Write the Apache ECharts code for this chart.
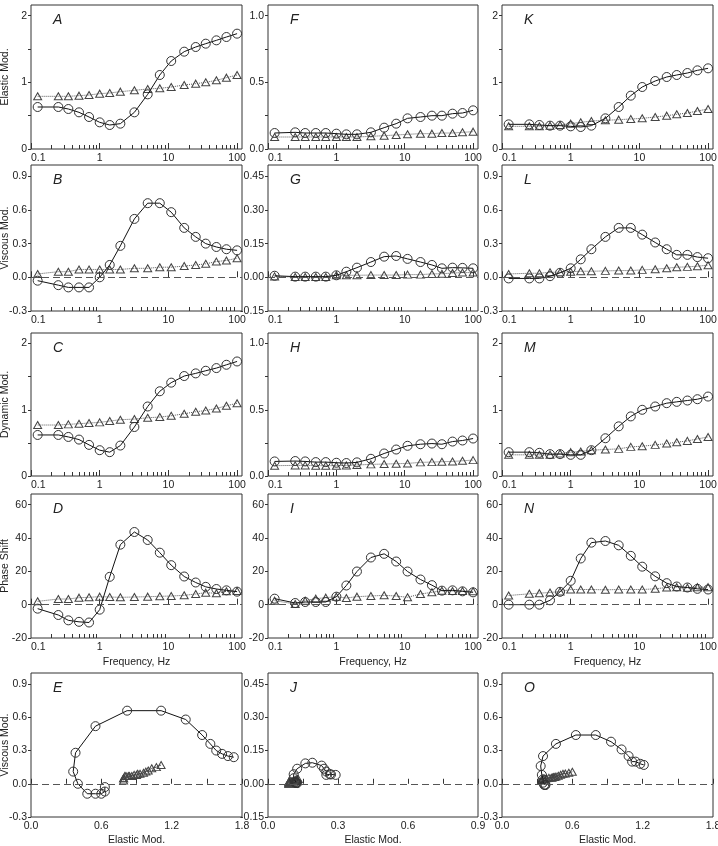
<!DOCTYPE html>
<html><head><meta charset="utf-8">
<script src="https://cdn.jsdelivr.net/npm/echarts@6/dist/echarts.min.js"></script>
<style>html,body{margin:0;padding:0;background:#fff}#c{width:718px;height:846px}</style>
</head><body><div id="c"></div><script>
// ---------- data ----------
const freq = [0.125, 0.25, 0.35, 0.5, 0.7, 1, 1.4, 2, 3.2, 5, 7.5, 11, 17, 25, 35, 50, 70, 100];

const elasticA_circ = [0.63, 0.63, 0.60, 0.55, 0.48, 0.40, 0.36, 0.38, 0.55, 0.82, 1.11, 1.32, 1.46, 1.53, 1.58, 1.63, 1.68, 1.73];
const elasticA_tri  = [0.79, 0.79, 0.79, 0.80, 0.81, 0.83, 0.84, 0.86, 0.88, 0.90, 0.91, 0.93, 0.96, 0.98, 1.00, 1.03, 1.07, 1.11];
const viscousB_circ = [-0.03, -0.07, -0.09, -0.09, -0.09, 0.00, 0.11, 0.28, 0.52, 0.66, 0.66, 0.58, 0.44, 0.36, 0.30, 0.27, 0.25, 0.24];
const viscousB_tri  = [0.03, 0.05, 0.05, 0.07, 0.07, 0.07, 0.07, 0.07, 0.08, 0.08, 0.09, 0.09, 0.10, 0.11, 0.12, 0.14, 0.15, 0.17];
const dynamicC_circ = [0.62, 0.62, 0.59, 0.55, 0.47, 0.39, 0.36, 0.46, 0.74, 1.05, 1.28, 1.41, 1.51, 1.55, 1.59, 1.63, 1.68, 1.73];
const dynamicC_tri  = [0.77, 0.77, 0.78, 0.79, 0.80, 0.81, 0.83, 0.85, 0.86, 0.88, 0.89, 0.91, 0.94, 0.97, 0.99, 1.02, 1.06, 1.10];
const phaseD_circ   = [-2.4, -6.2, -9.4, -10.3, -10.7, -3.0, 16.7, 36.0, 43.6, 38.8, 31.2, 23.7, 16.9, 13.3, 10.7, 9.4, 8.6, 7.8];
const phaseD_tri    = [2.0, 3.4, 3.4, 4.2, 4.4, 4.8, 4.6, 4.4, 4.6, 4.8, 5.0, 5.2, 5.6, 6.4, 7.2, 6.8, 8.0, 8.2];

const elasticF_circ = [0.12, 0.125, 0.12, 0.12, 0.12, 0.115, 0.11, 0.11, 0.125, 0.16, 0.19, 0.23, 0.24, 0.25, 0.25, 0.265, 0.27, 0.29];
const elasticF_tri  = [0.09, 0.09, 0.09, 0.09, 0.09, 0.09, 0.09, 0.09, 0.095, 0.10, 0.105, 0.11, 0.115, 0.115, 0.12, 0.12, 0.125, 0.13];
const viscousG_circ = [0.007, 0.003, 0.003, 0.003, 0.003, 0.009, 0.025, 0.043, 0.068, 0.092, 0.095, 0.082, 0.068, 0.055, 0.040, 0.043, 0.042, 0.040];
const viscousG_tri  = [0.004, 0.001, 0.001, 0.001, 0.001, 0.009, 0.009, 0.009, 0.010, 0.010, 0.010, 0.012, 0.012, 0.015, 0.016, 0.019, 0.021, 0.021];
const dynamicH_circ = [0.11, 0.113, 0.11, 0.105, 0.105, 0.10, 0.098, 0.103, 0.13, 0.17, 0.20, 0.228, 0.24, 0.245, 0.24, 0.26, 0.268, 0.283];
const dynamicH_tri  = [0.078, 0.08, 0.08, 0.078, 0.078, 0.078, 0.08, 0.083, 0.088, 0.09, 0.093, 0.095, 0.103, 0.105, 0.108, 0.11, 0.115, 0.12];
const phaseI_circ   = [3.6, 1.0, 1.6, 1.6, 1.6, 4.8, 11.5, 19.9, 28.3, 30.5, 25.9, 19.9, 15.1, 11.7, 8.4, 8.6, 8.0, 7.4];
const phaseI_tri    = [2.4, 0.4, 2.4, 3.6, 4.2, 4.8, 4.0, 4.8, 5.2, 5.6, 5.2, 4.4, 6.4, 7.4, 8.4, 8.2, 8.2, 8.0];

const elasticK_circ = [0.37, 0.37, 0.36, 0.35, 0.35, 0.34, 0.33, 0.35, 0.46, 0.63, 0.80, 0.93, 1.02, 1.08, 1.11, 1.14, 1.18, 1.21];
const elasticK_tri  = [0.34, 0.34, 0.34, 0.35, 0.36, 0.38, 0.40, 0.42, 0.43, 0.44, 0.45, 0.46, 0.48, 0.50, 0.52, 0.54, 0.57, 0.60];
const viscousL_circ = [-0.01, -0.01, -0.01, 0.01, 0.04, 0.08, 0.16, 0.25, 0.36, 0.44, 0.44, 0.38, 0.31, 0.25, 0.20, 0.20, 0.18, 0.17];
const viscousL_tri  = [0.03, 0.036, 0.036, 0.045, 0.045, 0.05, 0.054, 0.054, 0.057, 0.06, 0.06, 0.066, 0.072, 0.081, 0.09, 0.093, 0.099, 0.108];
const dynamicM_circ = [0.36, 0.36, 0.35, 0.33, 0.33, 0.32, 0.32, 0.39, 0.57, 0.75, 0.90, 1.00, 1.05, 1.10, 1.12, 1.14, 1.16, 1.20];
const dynamicM_tri  = [0.32, 0.32, 0.32, 0.32, 0.34, 0.36, 0.37, 0.39, 0.40, 0.41, 0.44, 0.45, 0.47, 0.49, 0.51, 0.53, 0.56, 0.59];
const phaseN_circ   = [0, 0, 0, 2.6, 7.7, 14.3, 27.7, 37.2, 38.2, 35.6, 29.3, 22.8, 17.0, 12.9, 10.9, 10.3, 9.5, 9.1];
const phaseN_tri    = [5.5, 6.5, 6.9, 7.3, 7.9, 9.1, 9.1, 9.1, 8.9, 9.1, 9.1, 9.1, 9.5, 10.3, 10.5, 10.1, 10.5, 10.5];

// tick values
const logMajorTicks = [0.1, 1, 10, 100];
const logMinorTicks = [0.2,0.3,0.4,0.5,0.6,0.7,0.8,0.9, 2,3,4,5,6,7,8,9, 20,30,40,50,60,70,80,90];
const modTicks2 = [0, 0.5, 1, 1.5, 2], modLabels2 = [0, 1, 2];
const modTicks1 = [0, 0.25, 0.5, 0.75, 1], modLabels1 = [0, 0.5, 1];
const viscTicks = [-0.3, 0, 0.3, 0.6, 0.9];
const viscTicksSmall = [-0.15, 0, 0.15, 0.3, 0.45];
const phaseTicks = [-20, 0, 20, 40, 60];
const elasticTicksBig = [0, 0.3, 0.6, 0.9, 1.2, 1.5, 1.8], elasticLabelsBig = [0, 0.6, 1.2, 1.8];
const elasticTicksSmall = [0, 0.15, 0.3, 0.45, 0.6, 0.75, 0.9], elasticLabelsSmall = [0, 0.3, 0.6, 0.9];

// ---------- layout / style ----------
const FONT = '"Liberation Sans", Arial, Helvetica, sans-serif';
const TXT = '#222';
const cols = [{left:31,width:211},{left:268,width:210},{left:502,width:211}];
const rows = [{top:5,height:144},{top:165,height:146},{top:333,height:143},{top:494,height:144},{top:673,height:144}];

const f1 = v => v.toFixed(1), f2 = v => v.toFixed(2), f0 = v => String(Math.round(v));
const yMod2 = {min:0, max:2.16, ticks:modTicks2, labels:modLabels2, fmt:f0};
const yMod1 = {min:0, max:1.08, ticks:modTicks1, labels:modLabels1, fmt:f1};
const yVisc = {min:-0.3, max:1.0, ticks:viscTicks, labels:viscTicks, fmt:f1};
const yViscS = {min:-0.15, max:0.5, ticks:viscTicksSmall, labels:viscTicksSmall, fmt:f2};
const yPhase = {min:-20, max:66.4, ticks:phaseTicks, labels:phaseTicks, fmt:f0};
const xElB = {min:0, max:1.8, ticks:elasticTicksBig, labels:elasticLabelsBig, fmt:f1};
const xElS = {min:0, max:0.9, ticks:elasticTicksSmall, labels:elasticLabelsSmall, fmt:f1};

const panels = [
  {c:0,r:0,letter:'A',y:yMod2,circ:elasticA_circ,tri:elasticA_tri,yName:'Elastic Mod.'},
  {c:0,r:1,letter:'B',y:yVisc,circ:viscousB_circ,tri:viscousB_tri,zero:true,yName:'Viscous Mod.'},
  {c:0,r:2,letter:'C',y:yMod2,circ:dynamicC_circ,tri:dynamicC_tri,yName:'Dynamic Mod.'},
  {c:0,r:3,letter:'D',y:yPhase,circ:phaseD_circ,tri:phaseD_tri,zero:true,yName:'Phase Shift',xName:'Frequency, Hz'},
  {c:0,r:4,letter:'E',loop:true,x:xElB,y:yVisc,cx:elasticA_circ,cy:viscousB_circ,tx:elasticA_tri,ty:viscousB_tri,zero:true,yName:'Viscous Mod.',xName:'Elastic Mod.'},
  {c:1,r:0,letter:'F',y:yMod1,circ:elasticF_circ,tri:elasticF_tri},
  {c:1,r:1,letter:'G',y:yViscS,circ:viscousG_circ,tri:viscousG_tri,zero:true},
  {c:1,r:2,letter:'H',y:yMod1,circ:dynamicH_circ,tri:dynamicH_tri},
  {c:1,r:3,letter:'I',y:yPhase,circ:phaseI_circ,tri:phaseI_tri,zero:true,xName:'Frequency, Hz'},
  {c:1,r:4,letter:'J',loop:true,x:xElS,y:yViscS,cx:elasticF_circ,cy:viscousG_circ,tx:elasticF_tri,ty:viscousG_tri,zero:true,xName:'Elastic Mod.'},
  {c:2,r:0,letter:'K',y:yMod2,circ:elasticK_circ,tri:elasticK_tri},
  {c:2,r:1,letter:'L',y:yVisc,circ:viscousL_circ,tri:viscousL_tri,zero:true},
  {c:2,r:2,letter:'M',y:yMod2,circ:dynamicM_circ,tri:dynamicM_tri},
  {c:2,r:3,letter:'N',y:yPhase,circ:phaseN_circ,tri:phaseN_tri,zero:true,xName:'Frequency, Hz'},
  {c:2,r:4,letter:'O',loop:true,x:xElB,y:yVisc,cx:elasticK_circ,cy:viscousL_circ,tx:elasticK_tri,ty:viscousL_tri,zero:true,xName:'Elastic Mod.'}
];

const grid = [], xAxis = [], yAxis = [], series = [], graphic = [];
const labelStyle = {fontSize:10.5, color:TXT, fontFamily:FONT};
const nameStyle = {fontSize:10.5, color:TXT, fontFamily:FONT};

panels.forEach((p, gi) => {
  const col = cols[p.c], row = rows[p.r];
  grid.push({left:col.left, top:row.top, width:col.width, height:row.height, show:true,
    borderColor:'#333', borderWidth:1, backgroundColor:'transparent', containLabel:false, outerBoundsMode:'none'});
  const xMain = xAxis.length;
  if (!p.loop) {
    xAxis.push({type:'log', logBase:10, gridIndex:gi, min:0.1, max:118, position:'bottom',
      axisLine:{show:false}, splitLine:{show:false},
      axisTick:{show:true, inside:true, length:6, customValues:logMajorTicks, lineStyle:{color:'#333'}},
      axisLabel:Object.assign({show:true, margin:4, customValues:logMajorTicks, alignMinLabel:'left',
        formatter: v => v < 1 ? '0.1' : String(Math.round(v))}, labelStyle),
      name:p.xName||'', nameLocation:'middle', nameGap:19, nameMoveOverlap:false, nameTextStyle:nameStyle});
    xAxis.push({type:'log', logBase:10, gridIndex:gi, min:0.1, max:118, position:'bottom',
      axisLine:{show:false}, splitLine:{show:false},
      axisTick:{show:true, inside:true, length:4, customValues:logMinorTicks, lineStyle:{color:'#333'}},
      axisLabel:{show:false}});
  } else {
    xAxis.push({type:'value', gridIndex:gi, min:p.x.min, max:p.x.max, position:'bottom',
      axisLine:{show:false}, splitLine:{show:false},
      axisTick:{show:true, inside:true, length:5, customValues:p.x.ticks, lineStyle:{color:'#333'}},
      axisLabel:Object.assign({show:true, margin:4, customValues:p.x.labels, formatter:p.x.fmt}, labelStyle),
      name:p.xName||'', nameLocation:'middle', nameGap:18, nameMoveOverlap:false, nameTextStyle:nameStyle});
  }
  const yi = yAxis.length;
  yAxis.push({type:'value', gridIndex:gi, min:p.y.min, max:p.y.max,
    axisLine:{show:false}, splitLine:{show:false},
    axisTick:{show:true, inside:false, length:3, customValues:p.y.ticks, lineStyle:{color:'#333'}},
    axisLabel:Object.assign({show:true, margin:4, customValues:p.y.labels, formatter:p.y.fmt}, labelStyle),
    name:p.yName||'', nameLocation:'middle', nameGap:20, nameRotate:90, nameMoveOverlap:false, nameTextStyle:nameStyle});

  let triData, circData;
  if (!p.loop) {
    triData = freq.map((f, i) => [f, p.tri[i]]);
    circData = freq.map((f, i) => [f, p.circ[i]]);
  } else {
    triData = p.tx.map((x, i) => [x, p.ty[i]]);
    circData = p.cx.map((x, i) => [x, p.cy[i]]);
  }
  series.push({type:'line', xAxisIndex:xMain, yAxisIndex:yi, data:triData,
    symbol:'triangle', symbolSize:[8,7], showSymbol:true,
    itemStyle:{color:'transparent', borderColor:'#444', borderWidth:1},
    lineStyle:{color:'#555', width:1, type:p.loop ? 'solid' : 'dotted'},
    emphasis:{disabled:true}, silent:true, z:2, clip:false});
  const circ = {type:'line', xAxisIndex:xMain, yAxisIndex:yi, data:circData,
    symbol:'circle', symbolSize:9, showSymbol:true,
    itemStyle:{color:'transparent', borderColor:'#333', borderWidth:1},
    lineStyle:{color:'#111', width:1, type:'solid'},
    emphasis:{disabled:true}, silent:true, z:3, clip:false};
  if (p.zero) {
    circ.markLine = {silent:true, symbol:'none', label:{show:false}, animation:false,
      lineStyle:{color:'#555', width:1, type:[7,4]}, data:[{yAxis:0}]};
  }
  series.push(circ);

  graphic.push({type:'text', left:col.left + 22, top:row.top + 8, silent:true,
    style:{text:p.letter, fontSize:14, fontStyle:'italic', fontFamily:FONT, fill:TXT}});
});

const chart = echarts.init(document.getElementById('c'), null, {renderer:'canvas'});
chart.setOption({animation:false, backgroundColor:'#fff', grid, xAxis, yAxis, series, graphic});
</script></body></html>
